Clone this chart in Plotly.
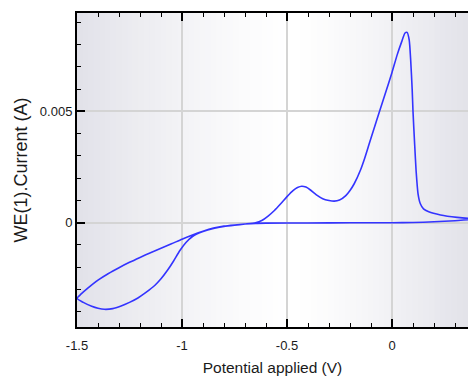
import plotly.graph_objects as go

# Cyclic voltammogram: potential (V) and current (mA), scanned from the right
# edge towards -1.5 V and back.
potential_v = [
    0.40, 0.30, 0.20, 0.10, 0.00, -0.20, -0.40, -0.60, -0.65, -0.70, -0.75, -0.80,
    -0.85, -0.90, -0.95, -1.00, -1.05, -1.10, -1.15, -1.20, -1.25, -1.30, -1.35,
    -1.40, -1.45, -1.48, -1.50,
    -1.47, -1.43, -1.40, -1.37, -1.33, -1.29, -1.25, -1.21, -1.17, -1.13, -1.10,
    -1.07, -1.04, -1.01, -0.98, -0.95, -0.90, -0.85, -0.80, -0.75, -0.70, -0.65,
    -0.62, -0.59, -0.56, -0.53, -0.50, -0.47, -0.45, -0.43, -0.41, -0.39, -0.36,
    -0.33, -0.30, -0.275, -0.25, -0.22, -0.20, -0.18, -0.15, -0.13, -0.11, -0.09,
    -0.06, -0.03, 0.00, 0.025, 0.045, 0.062, 0.072, 0.082, 0.089, 0.096, 0.100,
    0.108, 0.115, 0.124, 0.135, 0.150, 0.175, 0.231, 0.31, 0.40,
]
current_ma = [
    0.16, 0.09, 0.04, 0.01, 0.00, -0.005, -0.01, -0.02, -0.03, -0.06, -0.10, -0.15,
    -0.24, -0.38, -0.55, -0.74, -0.95, -1.15, -1.35, -1.56, -1.78, -2.02, -2.28,
    -2.58, -2.95, -3.20, -3.40,
    -3.58, -3.75, -3.84, -3.89, -3.86, -3.74, -3.58, -3.38, -3.12, -2.82, -2.52,
    -2.15, -1.72, -1.25, -0.88, -0.62, -0.40, -0.26, -0.17, -0.11, -0.06, 0.00,
    0.10, 0.30, 0.55, 0.85, 1.17, 1.45, 1.58, 1.64, 1.60, 1.48, 1.25,
    1.08, 1.00, 0.97, 1.02, 1.22, 1.45, 1.75, 2.37, 2.90, 3.50, 4.10,
    4.98, 5.86, 6.75, 7.55, 8.10, 8.52, 8.55, 8.20, 7.30, 6.00, 5.00,
    3.50, 2.30, 1.30, 0.85, 0.62, 0.49, 0.35, 0.24, 0.16,
]
current_a = [c / 1000.0 for c in current_ma]

x_tickvals = [-1.5, -1.0, -0.5, 0.0]
x_ticktext = ["-1.5", "-1", "-0.5", "0"]
y_tickvals = [0.0, 0.005]
y_ticktext = ["0", "0.005"]

fig = go.Figure()
fig.add_trace(go.Scatter(
    x=potential_v, y=current_a, mode="lines",
    line=dict(color="#3434ff", width=1.6, shape="spline", smoothing=0.6),
    showlegend=False, hoverinfo="skip",
))

# horizontal grey-white-grey background gradient
n = 70
center = 0.55
shapes = []
for i in range(n):
    x0 = i / n
    x1 = (i + 1) / n
    xm = (x0 + x1) / 2
    if xm < center:
        t = (center - xm) / center
    else:
        t = (xm - center) / (1 - center)
    t = min(1.0, t) ** 1.3
    r = round(255 - 29 * t)
    g = round(255 - 29 * t)
    b = round(255 - 22 * t)
    shapes.append(dict(type="rect", xref="paper", yref="paper", x0=x0, x1=x1 + 0.002,
                       y0=0, y1=1, fillcolor=f"rgb({r},{g},{b})",
                       line=dict(width=0), layer="below"))

tick_font = dict(family="Liberation Sans, Arial", size=13, color="#1a1a1a")

fig.update_layout(
    width=468, height=376,
    margin=dict(l=77, r=0, t=13, b=49),
    paper_bgcolor="white", plot_bgcolor="white",
    shapes=shapes,
    xaxis=dict(
        range=[-1.5, 0.3619], tickmode="array", tickvals=x_tickvals, ticktext=x_ticktext,
        ticks="inside", ticklen=8, tickwidth=1.5, tickcolor="black",
        minor=dict(tickmode="linear", tick0=0, dtick=0.1, ticks="inside", ticklen=4,
                   tickwidth=1.2, tickcolor="black", showgrid=False),
        showline=True, linewidth=2, linecolor="black", mirror="ticks",
        showgrid=True, gridcolor="#d4d4d4", gridwidth=2, zeroline=False,
        tickfont=tick_font, ticklabelstandoff=5,
        title=dict(text="Potential applied (V)", standoff=11,
                   font=dict(family="Liberation Sans, Arial", size=15.5, color="#1a1a1a")),
    ),
    yaxis=dict(
        range=[-0.004685, 0.00942], tickmode="array", tickvals=y_tickvals, ticktext=y_ticktext,
        ticks="inside", ticklen=8, tickwidth=1.5, tickcolor="black",
        minor=dict(tickmode="linear", tick0=0, dtick=0.001, ticks="inside", ticklen=4,
                   tickwidth=1.2, tickcolor="black", showgrid=False),
        showline=True, linewidth=2, linecolor="black", mirror=False,
        showgrid=True, gridcolor="#d4d4d4", gridwidth=2, zeroline=False,
        tickfont=tick_font,
        title=dict(text="WE(1).Current (A)", standoff=8,
                   font=dict(family="Liberation Sans, Arial", size=18, color="#1a1a1a")),
    ),
)

fig.write_html("out.html")
